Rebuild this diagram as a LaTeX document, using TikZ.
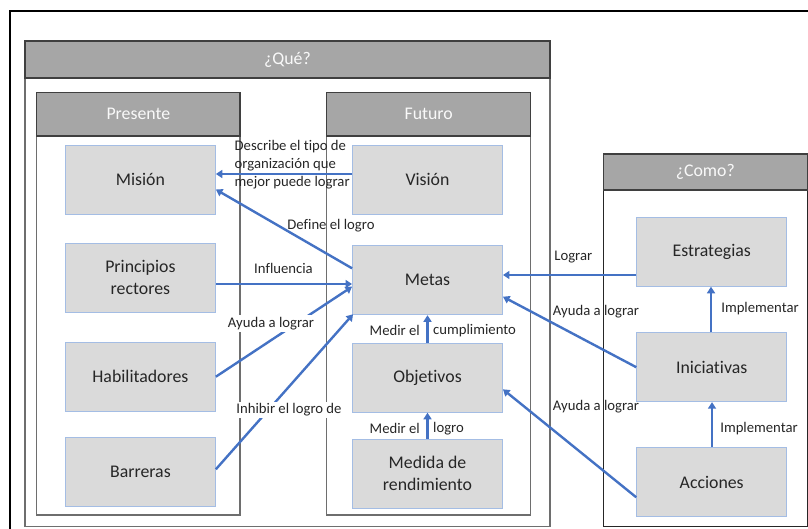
\documentclass[tikz,border=0pt]{standalone}
\usepackage{fontspec}
\setmainfont{Carlito}[Ligatures={NoCommon}]
\usetikzlibrary{arrows.meta}
\definecolor{hdr}{HTML}{A6A6A6}
\definecolor{hdrline}{HTML}{3F3F3F}
\definecolor{boxline}{HTML}{6E6E6E}
\definecolor{nodefill}{HTML}{DADADA}
\definecolor{nodeline}{HTML}{A4BDE4}
\definecolor{arrblue}{HTML}{4472C4}
\definecolor{txt}{HTML}{262626}
\tikzset{
  item/.style={draw=nodeline, fill=nodefill, line width=0.9pt, minimum width=150pt, minimum height=69pt, inner sep=0pt, align=center, text=txt, font=\fontsize{17.8}{22}\selectfont},
  hdrbox/.style={draw=hdrline, fill=hdr, line width=1.4pt, text=white!95!gray, font=\fontsize{17.8}{22}\selectfont},
  bodybox/.style={draw=boxline, line width=1.3pt},
  arr/.style={draw=arrblue, line width=2.4pt, -{Triangle[width=8pt,length=6.5pt]}},
  lbl/.style={inner sep=1pt, text=txt, font=\fontsize{14.7}{18}\selectfont},
  wlbl/.style={lbl, fill=white, inner sep=2pt}
}
\begin{document}
\begin{tikzpicture}[x=1pt,y=-1pt]
\useasboundingbox (0,0) rectangle (808,528);
\clip (0,0) rectangle (808,528);
% outer frame
\draw[line width=1.8pt, black] (10,11) rectangle (815,535);
% Que box
\draw[bodybox] (25,41) rectangle (550,526.5);
\draw[hdrbox] (25,41) rectangle node (hq) {¿Qué?} (550,78);
% Presente
\draw[bodybox] (36.7,92.7) rectangle (240,515);
\draw[hdrbox] (36.7,92.7) rectangle node (hp) {Presente} (240,136);
% Futuro
\draw[bodybox] (326.7,92.7) rectangle (530.7,515);
\draw[hdrbox] (326.7,92.7) rectangle node (hf) {Futuro} (530.7,136);
% Como
\draw[bodybox, draw=black!85] (603.3,154) rectangle (807.3,526.7);
\draw[hdrbox] (603.3,154) rectangle node (hc) {¿Como?} (807.3,190);

% nodes
\node[item] (mision) at (140.4,179.5) {Misión};
\node[item] (principios) at (140.4,277.8) {Principios\\rectores};
\node[item] (habil) at (140.4,376.7) {Habilitadores};
\node[item] (barreras) at (140.4,472.2) {Barreras};
\node[item] (vision) at (427.5,179.5) {Visión};
\node[item] (metas) at (427.5,280.3) {Metas};
\node[item] (objetivos) at (427.5,377.8) {Objetivos};
\node[item] (medida) at (427.5,473.7) {Medida de\\rendimiento};
\node[item] (estrategias) at (711.7,251.8) {Estrategias};
\node[item] (iniciativas) at (711.7,367.2) {Iniciativas};
\node[item] (acciones) at (711.7,482) {Acciones};

% arrows
\draw[arr] ([yshift=5.5pt]vision.west) -- ([yshift=5.5pt]mision.east);
\draw[arr] ([yshift=12pt]metas.west) -- ([yshift=-10pt]mision.east);
\draw[arr] ([yshift=-6.2pt]principios.east) -- ([yshift=-3.7pt]metas.west);
\draw[arr] (habil.east) -- ([yshift=-6.4pt]metas.west);
\draw[arr] ([yshift=2.9pt]barreras.east) -- ([xshift=1pt,yshift=1pt]metas.south west);
\draw[arr] (objetivos.north) -- (metas.south);
\draw[arr] (medida.north) -- (objetivos.south);
\draw[arr] ([yshift=-23.2pt]estrategias.west) -- ([yshift=5.3pt]metas.east);
\draw[arr] (iniciativas.west) -- ([yshift=-16.4pt]metas.east);
\draw[arr] ([yshift=-15.3pt]acciones.west) -- ([yshift=-11.5pt]objetivos.east);
\draw[arr] (iniciativas.north -| 711,0) -- (estrategias.south -| 711,0);
\draw[arr] (acciones.north -| 712,0) -- (iniciativas.south -| 712,0);

% labels
\node[lbl, anchor=west, align=left] (l1) at (233.5,165) {Describe el tipo de\\organización que\\mejor puede lograr};
\node[lbl] (l2) at (331,226) {Define el logro};
\node[lbl] (l3) at (283.5,268.5) {Influencia};
\node[wlbl] (l4) at (271,323.5) {Ayuda a lograr};
\node[wlbl] (l5) at (289,410) {Inhibir el logro de};
\node[lbl, anchor=east] (l6a) at (421,330.5) {Medir el};
\node[lbl, anchor=west] (l6b) at (432,330.5) {cumplimiento};
\node[lbl, anchor=east] (l7a) at (421,428.5) {Medir el};
\node[lbl, anchor=west] (l7b) at (432,428.5) {logro};
\node[lbl] (l8) at (573.3,257) {Lograr};
\node[lbl] (l9) at (596,311.7) {Ayuda a lograr};
\node[lbl] (l10) at (596,406.7) {Ayuda a lograr};
\node[lbl] (l11) at (760,308.3) {Implementar};
\node[lbl] (l12) at (759,428.3) {Implementar};
\end{tikzpicture}
\end{document}
